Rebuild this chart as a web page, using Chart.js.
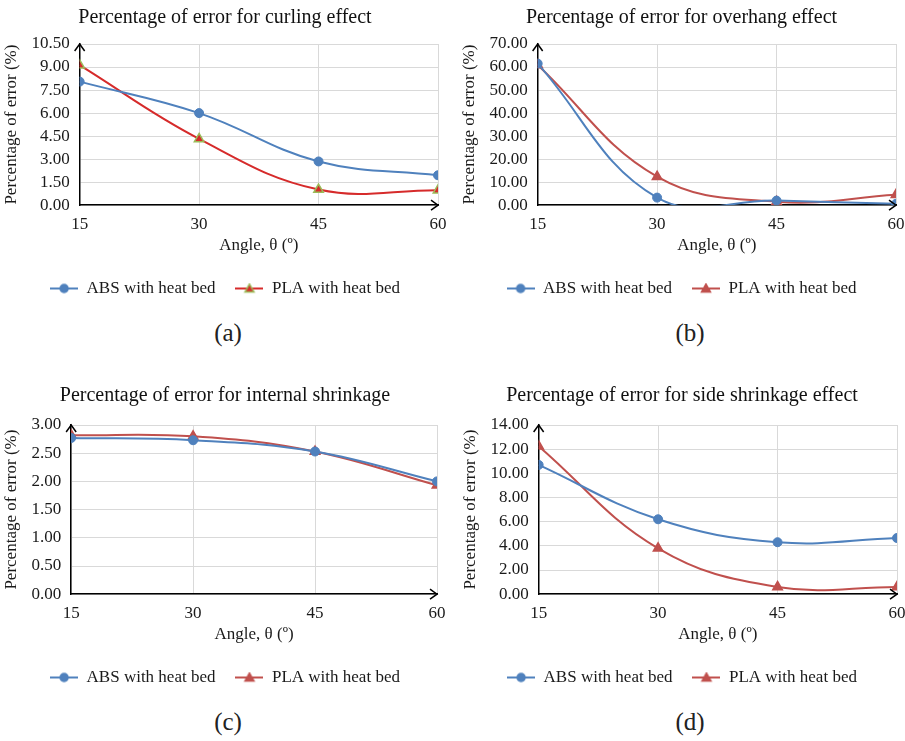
<!DOCTYPE html>
<html><head><meta charset="utf-8">
<script src="https://cdn.jsdelivr.net/npm/chart.js@4.4.0/dist/chart.umd.min.js"></script>
<style>
body{margin:0;background:#fff;width:905px;height:741px;position:relative;overflow:hidden;font-family:"Liberation Serif",serif;}
.p{position:absolute;}
.lab{position:absolute;font-family:"Liberation Serif",serif;font-size:25px;color:#222;width:450px;text-align:center;line-height:30px;}
</style></head><body>
<div class="p" style="left:0;top:0"><canvas id="ca" width="450" height="307"></canvas></div>
<div class="p" style="left:458px;top:0"><canvas id="cb" width="447" height="307"></canvas></div>
<div class="p" style="left:0;top:377px"><canvas id="cc" width="450" height="319"></canvas></div>
<div class="p" style="left:459px;top:377px"><canvas id="cd" width="446" height="319"></canvas></div>
<div class="lab" style="left:3px;top:318px">(a)</div>
<div class="lab" style="left:465px;top:318px">(b)</div>
<div class="lab" style="left:3px;top:707px">(c)</div>
<div class="lab" style="left:465px;top:707px">(d)</div>
<script>
// ---- data ----
const angles = [15, 30, 45, 60];
const seriesNames = ['ABS with heat bed', 'PLA with heat bed'];
const titles = ['Percentage of error for curling effect', 'Percentage of error for overhang effect', 'Percentage of error for internal shrinkage', 'Percentage of error for side shrinkage effect'];
const curlingABS = [8.05, 6.0, 2.85, 1.95];
const curlingPLA = [9.12, 4.32, 1.02, 0.98];
const overhangABS = [61.5, 3.3, 2.0, 0.6];
const overhangPLA = [60.9, 12.4, 1.5, 4.5];
const internalABS = [2.77, 2.73, 2.53, 2.0];
const internalPLA = [2.82, 2.80, 2.53, 1.93];
const sideABS = [10.7, 6.2, 4.3, 4.65];
const sidePLA = [12.25, 3.8, 0.6, 0.6];
const yTicksCurling = [0, 1.5, 3, 4.5, 6, 7.5, 9, 10.5];
const yTicksOverhang = [0, 10, 20, 30, 40, 50, 60, 70];
const yTicksInternal = [0, 0.5, 1, 1.5, 2, 2.5, 3];
const yTicksSide = [0, 2, 4, 6, 8, 10, 12, 14];

const BLUE = '#4F81BD', RED = '#C0504D', RED_A = '#D62B2B', GREEN = '#9BBB59';
Chart.defaults.font.family = '"Liberation Serif", "Times New Roman", serif';
Chart.defaults.color = '#1a1a1a';

function icon(line, kind, fill, border) {
  const c = document.createElement('canvas'); c.width = 28; c.height = 12;
  const x = c.getContext('2d');
  x.strokeStyle = line; x.lineWidth = 2;
  x.beginPath(); x.moveTo(0, 6); x.lineTo(28, 6); x.stroke();
  x.fillStyle = fill; x.strokeStyle = border; x.lineWidth = 1.5;
  x.beginPath();
  if (kind === 'c') { x.arc(14, 6, 4, 0, Math.PI * 2); }
  else { x.moveTo(14, 1.5); x.lineTo(18.5, 9.5); x.lineTo(9.5, 9.5); x.closePath(); }
  x.fill(); x.stroke();
  return c;
}

const arrows = {
  id: 'arrows',
  afterDatasetsDraw(chart) {
    const { ctx, chartArea: a } = chart;
    ctx.save(); ctx.strokeStyle = '#000'; ctx.lineWidth = 1.5;
    ctx.beginPath();
    ctx.moveTo(a.left - 5, a.top + 7); ctx.lineTo(a.left, a.top); ctx.lineTo(a.left + 5, a.top + 7);
    ctx.moveTo(a.right - 7, a.bottom - 5); ctx.lineTo(a.right, a.bottom); ctx.lineTo(a.right - 7, a.bottom + 5);
    ctx.stroke(); ctx.restore();
  }
};

function make(id, title, abs, pla, yTicks, plaLine, plaFill, plaBorder, titleTop, titleBottom, padRight) {
  const icons = [icon(BLUE, 'c', BLUE, BLUE), icon(plaLine, 't', plaFill, plaBorder)];
  new Chart(document.getElementById(id), {
    type: 'line',
    data: {
      datasets: [
        { label: seriesNames[0], data: angles.map((a, i) => ({ x: a, y: abs[i] })),
          borderColor: BLUE, backgroundColor: BLUE, borderWidth: 2, tension: 0.4, capBezierPoints: false,
          pointStyle: 'circle', pointRadius: 4.5, pointBackgroundColor: BLUE, pointBorderColor: BLUE, pointBorderWidth: 1 },
        { label: seriesNames[1], data: angles.map((a, i) => ({ x: a, y: pla[i] })),
          borderColor: plaLine, backgroundColor: plaFill, borderWidth: 2, tension: 0.4, capBezierPoints: false,
          pointStyle: 'triangle', pointRadius: 5.5, pointBackgroundColor: plaFill, pointBorderColor: plaBorder, pointBorderWidth: 1.5 }
      ]
    },
    options: {
      responsive: false, animation: false, devicePixelRatio: 1,
      layout: { padding: { left: 0, right: 0, top: 0, bottom: 0 } },
      plugins: {
        tooltip: { enabled: false },
        title: { display: true, text: title, font: { size: 20, weight: 'normal' }, color: '#111', padding: { top: titleTop, bottom: titleBottom } },
        legend: {
          position: 'bottom',
          labels: {
            usePointStyle: true, pointStyleWidth: 28, boxHeight: 12, padding: 20,
            font: { size: 17 }, color: '#1a1a1a',
            generateLabels(chart) {
              const l = Chart.defaults.plugins.legend.labels.generateLabels(chart);
              l.forEach((it, i) => { it.pointStyle = icons[i]; });
              return l;
            }
          }
        }
      },
      scales: {
        x: { type: 'linear', min: 15, max: 60,
          afterBuildTicks: s => { s.ticks = angles.map(v => ({ value: v })); },
          afterFit: s => { s.paddingRight = padRight; },
          ticks: { autoSkip: false, font: { size: 17 }, color: '#1a1a1a', padding: 9 },
          grid: { color: '#d9d9d9', drawTicks: false },
          border: { color: '#000', width: 1.5 },
          title: { display: true, text: 'Angle, θ (º)', font: { size: 17 }, color: '#1a1a1a', padding: { top: -8, bottom: 4 } } },
        y: { min: yTicks[0], max: yTicks[yTicks.length - 1],
          afterBuildTicks: s => { s.ticks = yTicks.map(v => ({ value: v })); },
          ticks: { autoSkip: false, font: { size: 17 }, color: '#1a1a1a', padding: 10, callback: v => Number(v).toFixed(2) },
          grid: { color: '#d9d9d9', drawTicks: false },
          border: { color: '#000', width: 1.5 },
          title: { display: true, text: 'Percentage of error (%)', font: { size: 17 }, color: '#1a1a1a', padding: { top: 1, bottom: 0 } } }
      }
    },
    plugins: [arrows]
  });
}
make('ca', titles[0], curlingABS, curlingPLA, yTicksCurling, RED_A, RED_A, GREEN, 6, 14, 12);
make('cb', titles[1], overhangABS, overhangPLA, yTicksOverhang, RED, RED, RED, 6, 14, 9);
make('cc', titles[2], internalABS, internalPLA, yTicksInternal, RED, RED, RED, 7, 17, 13);
make('cd', titles[3], sideABS, sidePLA, yTicksSide, RED, RED, RED, 7, 17, 8);
</script>
</body></html>
